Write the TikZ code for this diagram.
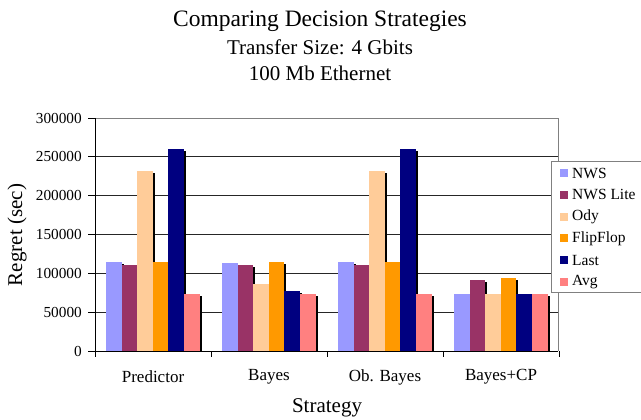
\documentclass[tikz,border=0pt]{standalone}
\usepackage{fontspec}
\setmainfont{Liberation Serif}
\definecolor{cNWS}{HTML}{9999FF}
\definecolor{cLite}{HTML}{993366}
\definecolor{cOdy}{HTML}{FFCC99}
\definecolor{cFlip}{HTML}{FF9900}
\definecolor{cLast}{HTML}{000080}
\definecolor{cAvg}{HTML}{FF8080}
\definecolor{bordergray}{HTML}{808080}
\tikzset{
  gridline/.style={line width=0.8pt, black!85},
  axisline/.style={line width=0.8pt, black},
  barshadow/.style={fill=black, draw=none},
  ticklabel/.style={font=\fontsize{15.3}{18}\selectfont, inner sep=0pt},
  catlabel/.style={font=\fontsize{17}{20}\selectfont, inner sep=0pt},
  titletext/.style={font=\fontsize{21}{25}\selectfont, inner sep=0pt},
  axistitle/.style={font=\fontsize{21}{25}\selectfont, inner sep=0pt},
  legendtext/.style={font=\fontsize{15.5}{18}\selectfont, inner sep=0pt, anchor=west},
}
% values in thousands
\newcommand{\yv}[1]{351-(#1)/300*233}
\begin{document}
\begin{tikzpicture}[x=1pt,y=-1pt]
\useasboundingbox[fill=white] (0,0) rectangle (641,420);
% titles
\node[titletext, font=\fontsize{23.5}{27}\selectfont] (t1) at (320,21) {Comparing Decision Strategies};
\node[titletext] (t2) at (320,47) {Transfer Size: 4 Gbits};
\node[titletext] (t3) at (320,73) {100 Mb Ethernet};
% gridlines
\foreach \v in {1,...,5} \draw[gridline] (95,{351-\v*233/6}) -- (558,{351-\v*233/6});
\draw[bordergray, line width=0.8pt] (95,118) -- (558,118) -- (558,351);
% bars
\def\bw{15.6}
\def\allvals{{115,111,232,115,260,73.4},{113.3,111,86.3,115,76.8,73.4},{115,111,232,115,260,73.4},{73.4,91.4,73.4,94,73.4,73.4}}
\foreach \vals [count=\g from 0] in \allvals {
  \foreach \v [count=\j from 0] in \vals {
    \pgfmathsetmacro{\xa}{95+116*\g+11+\bw*\j}
    \pgfmathsetmacro{\xb}{\xa+\bw}
    \pgfmathsetmacro{\yt}{\yv{\v}}
    \fill[barshadow] (\xa+2,\yt+2) rectangle (\xb+2,351);
  }
}
\foreach \vals [count=\g from 0] in \allvals {
  \foreach \v [count=\j from 0] in \vals {
    \pgfmathsetmacro{\xa}{95+116*\g+11+\bw*\j}
    \pgfmathsetmacro{\xb}{\xa+\bw}
    \pgfmathsetmacro{\yt}{\yv{\v}}
    \ifcase\j \def\cc{cNWS}\or \def\cc{cLite}\or \def\cc{cOdy}\or \def\cc{cFlip}\or \def\cc{cLast}\else \def\cc{cAvg}\fi
    \fill[\cc] (\xa,\yt) rectangle (\xb,351);
  }
}
% axes
\draw[axisline] (95,118) -- (95,351) -- (558,351);
\foreach \v [count=\k from 0] in {0,50000,100000,150000,200000,250000,300000} {
  \draw[axisline] (88,{351-\k*233/6}) -- (95,{351-\k*233/6});
  \node[ticklabel, anchor=east] (yl\k) at (82,{351-\k*233/6}) {\v};
}
\foreach \i in {0,...,4} \draw[axisline] ({95+116*\i},351) -- ({95+116*\i},357);
\foreach \n [count=\i from 0] in {Predictor,Bayes,Ob. Bayes,Bayes+CP}
  \node[catlabel] (cat\i) at ({153+116*\i},377) {\n};
\node[axistitle] (xt) at (327,408) {Strategy};
\node[axistitle, rotate=90] (yt) at (17,235) {Regret (sec)};
% legend
\filldraw[fill=white, draw=bordergray, line width=0.8pt] (645,161) -- (551,161) -- (551,292) -- (645,292);
\foreach \n/\c [count=\k from 0] in {NWS/cNWS,NWS Lite/cLite,Ody/cOdy,FlipFlop/cFlip,Last/cLast,Avg/cAvg} {
  \fill[\c] (560,{173+21.8*\k-4}) rectangle (568,{173+21.8*\k+4});
  \node[legendtext] (lg\k) at (572,{173+21.8*\k}) {\n};
}
\end{tikzpicture}
\end{document}
